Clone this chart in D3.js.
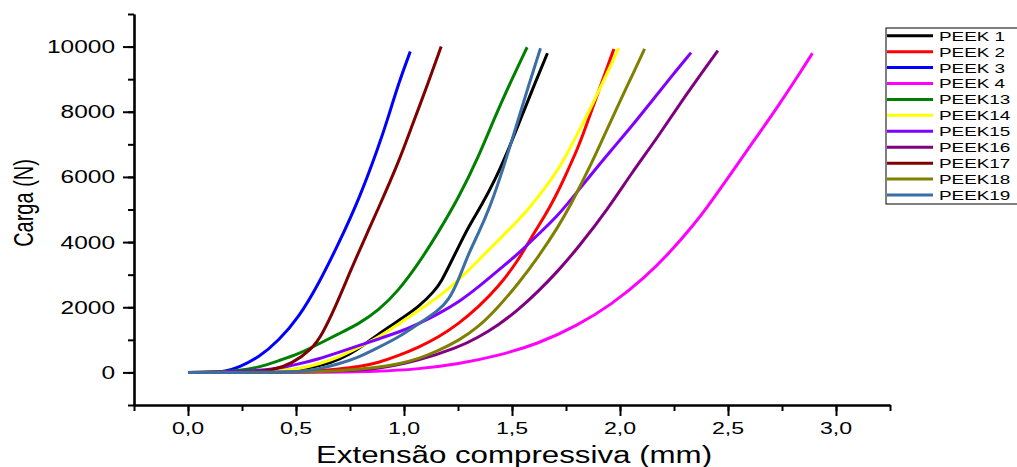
<!DOCTYPE html>
<html><head><meta charset="utf-8">
<script src="https://cdn.jsdelivr.net/npm/d3@7"></script>
<style>
html,body{margin:0;padding:0;background:#fff;}
svg{display:block;}
text{font-family:"Liberation Sans",Arial,sans-serif;fill:#000;}
</style></head>
<body>
<svg id="chart" width="1017" height="467"></svg>
<script>
const seriesNames = ["PEEK 1","PEEK 2","PEEK 3","PEEK 4","PEEK13","PEEK14","PEEK15","PEEK16","PEEK17","PEEK18","PEEK19"];
const seriesColors = ["#000000","#ff0000","#0000ff","#ff00ff","#008000","#ffff00","#8000ff","#800080","#800000","#808000","#3a6ea5"];
const xTicks = [0,0.5,1,1.5,2,2.5,3];
const yTicks = [0,2000,4000,6000,8000,10000];
const xLabel = "Extensão compressiva (mm)";
const yLabel = "Carga (N)";

const peek1  = [[0,0],[0.2,3],[0.4,20],[0.55,120],[0.667,300],[0.75,560],[0.821,874],[0.882,1181],[0.975,1591],[1.067,2000],[1.144,2514],[1.175,2822],[1.206,3231],[1.252,3846],[1.298,4461],[1.359,5130],[1.421,5898],[1.483,6822],[1.544,7846],[1.606,8874],[1.664,9795]];
const peek2  = [[0,0],[0.3,5],[0.5,25],[0.605,52],[0.697,104],[0.79,170],[0.882,300],[0.975,514],[1.067,769],[1.159,1077],[1.252,1489],[1.344,2000],[1.436,2615],[1.529,3437],[1.59,4154],[1.652,4800],[1.698,5350],[1.745,6000],[1.806,6900],[1.837,7450],[1.883,8300],[1.929,9150],[1.972,9929]];
const peek3  = [[0,0],[0.1,5],[0.174,31],[0.236,154],[0.328,462],[0.42,975],[0.513,1692],[0.605,2720],[0.697,3951],[0.79,5283],[0.882,6923],[0.928,7850],[0.975,8874],[1.029,9846]];
const peek4  = [[0,0],[0.6,0],[0.882,25],[1.067,104],[1.252,258],[1.436,514],[1.621,874],[1.806,1450],[1.96,2080],[2.114,2900],[2.237,3720],[2.345,4566],[2.399,5026],[2.514,6105],[2.622,7129],[2.73,8154],[2.822,9077],[2.891,9795]];
const peek13 = [[0,0],[0.1,5],[0.236,52],[0.328,154],[0.42,360],[0.513,566],[0.605,874],[0.697,1181],[0.79,1489],[0.882,1898],[0.975,2514],[1.067,3335],[1.159,4300],[1.252,5350],[1.344,6600],[1.421,7846],[1.498,8975],[1.57,9980]];
const peek14 = [[0,0],[0.2,10],[0.328,31],[0.42,60],[0.513,104],[0.605,258],[0.697,462],[0.79,769],[0.882,1077],[0.975,1489],[1.067,1898],[1.159,2307],[1.252,2822],[1.344,3437],[1.436,4052],[1.529,4668],[1.59,5120],[1.698,6050],[1.75,6650],[1.806,7350],[1.867,8150],[1.929,9020],[1.994,9950]];
const peek15 = [[0,0],[0.15,10],[0.328,52],[0.42,123],[0.513,258],[0.605,412],[0.697,615],[0.79,822],[0.882,1027],[0.975,1231],[1.067,1489],[1.159,1797],[1.252,2150],[1.344,2615],[1.436,3129],[1.529,3643],[1.621,4230],[1.714,4830],[1.768,5260],[1.867,6080],[1.96,6822],[2.052,7538],[2.145,8308],[2.237,9077],[2.329,9815]];
const peek16 = [[0,0],[0.4,0],[0.7,40],[0.882,104],[1.067,360],[1.252,769],[1.344,1077],[1.436,1450],[1.529,1920],[1.621,2480],[1.714,3120],[1.806,3830],[1.945,5026],[2.052,6105],[2.176,7230],[2.299,8462],[2.453,9877]];
const peek17 = [[0,0],[0.2,5],[0.3,20],[0.389,60],[0.482,270],[0.574,720],[0.62,1150],[0.682,2000],[0.751,3100],[0.821,4150],[0.879,5000],[0.975,6450],[1.036,7550],[1.113,8900],[1.172,10000]];
const peek18 = [[0,0],[0.5,0],[0.7,40],[0.882,154],[0.975,258],[1.067,412],[1.159,668],[1.252,975],[1.344,1385],[1.436,2000],[1.529,2720],[1.621,3540],[1.714,4461],[1.783,5283],[1.806,5600],[1.867,6400],[1.929,7300],[1.991,8200],[2.052,9050],[2.114,9929]];
const peek19 = [[0,0],[0.4,0],[0.513,20],[0.605,104],[0.697,258],[0.79,462],[0.882,769],[0.975,1077],[1.067,1489],[1.159,1898],[1.206,2206],[1.252,2822],[1.298,3643],[1.344,4250],[1.398,5077],[1.452,6105],[1.514,7437],[1.575,8770],[1.632,9950]];

const seriesData = [peek1,peek2,peek3,peek4,peek13,peek14,peek15,peek16,peek17,peek18,peek19];

const svg = d3.select("#chart");
const x = d3.scaleLinear().domain([-0.25,3.25]).range([134,890]);
const y = d3.scaleLinear().domain([-1000,11000]).range([405,14]);
const SX = 1.36; // horizontal stretch of the original picture's text

// curves
const line = d3.line().x(d=>x(d[0])).y(d=>y(d[1])).curve(d3.curveBasis);
svg.append("g").selectAll("path").data(seriesData).join("path")
  .attr("d", line).attr("fill","none")
  .attr("stroke",(d,i)=>seriesColors[i]).attr("stroke-width",3)
  .attr("stroke-linejoin","round").attr("stroke-linecap","butt");

// axes
const xMinor = d3.range(-0.25,3.26,0.25);
const yMinor = d3.range(-1000,11001,1000);
const ax = svg.append("g").attr("transform","translate(0,405)")
  .call(d3.axisBottom(x).tickValues(xMinor).tickSize(6).tickSizeOuter(0).tickFormat(""));
const axMaj = svg.append("g").attr("transform","translate(0,405)")
  .call(d3.axisBottom(x).tickValues(xTicks).tickSize(11).tickSizeOuter(0).tickFormat(""));
const ay = svg.append("g").attr("transform","translate(134,0)")
  .call(d3.axisLeft(y).tickValues(yMinor).tickSize(6).tickSizeOuter(0).tickFormat(""));
const ayMaj = svg.append("g").attr("transform","translate(134,0)")
  .call(d3.axisLeft(y).tickValues(yTicks).tickSize(11).tickSizeOuter(0).tickFormat(""));
[ax,axMaj,ay,ayMaj].forEach(g=>{
  g.selectAll("path,line").attr("stroke","#000").attr("stroke-width",2);
});
ax.select(".domain").attr("stroke-width",2.2);
ay.select(".domain").attr("stroke-width",2.2);

// tick labels
const fmtX = v => d3.format(".1f")(v).replace(".",",");
svg.append("g").selectAll("text").data(xTicks).join("text")
  .attr("transform", d=>`translate(${x(d)},434) scale(${SX},1)`)
  .attr("text-anchor","middle").attr("font-size",17).text(fmtX);
svg.append("g").selectAll("text").data(yTicks).join("text")
  .attr("transform", d=>`translate(115,${y(d)}) scale(${SX},1)`)
  .attr("text-anchor","end").attr("dy","0.36em").attr("font-size",18).text(d=>d);

// axis titles
svg.append("text").attr("transform",`translate(514,463) scale(${SX},1)`)
  .attr("text-anchor","middle").attr("font-size",23).text(xLabel);
svg.append("text").attr("transform",`translate(33,203) scale(${SX},1) rotate(-90)`)
  .attr("text-anchor","middle").attr("font-size",20).text(yLabel);

// legend
const lg = svg.append("g");
lg.append("rect").attr("x",886).attr("y",28).attr("width",140).attr("height",176)
  .attr("fill","#fff").attr("stroke","#000").attr("stroke-width",1);
const rowY = i => 35.7 + i*15.93;
lg.selectAll("line").data(seriesNames).join("line")
  .attr("x1",887).attr("x2",933).attr("y1",(d,i)=>rowY(i)).attr("y2",(d,i)=>rowY(i))
  .attr("stroke",(d,i)=>seriesColors[i]).attr("stroke-width",3);
lg.selectAll("text").data(seriesNames).join("text")
  .attr("transform",(d,i)=>`translate(939,${rowY(i)+5}) scale(1.4,1)`)
  .attr("font-size",13.5).text(d=>d);
</script>
</body></html>
